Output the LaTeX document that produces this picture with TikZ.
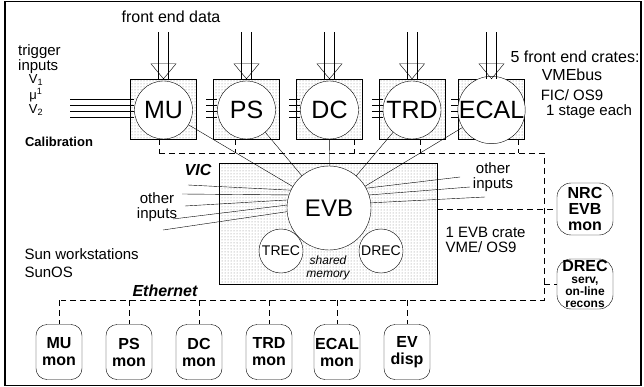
\documentclass[tikz,border=0pt]{standalone}
\usepackage{fontspec}
\setmainfont{Liberation Sans}
\usetikzlibrary{patterns, positioning}
\tikzset{
x=1pt, y=-1pt, % pixel coordinates, y grows downwards
crate/.style={draw, rectangle, pattern=dots, pattern color=gray, minimum width=66pt, minimum height=60pt, inner sep=0pt}, % stippled crate
proc/.style={draw, circle, fill=white, inner sep=0pt, minimum size=58pt, font=\fontsize{25}{25}\selectfont}, % processor circle
mon/.style={draw, rectangle, rounded corners=11pt, minimum width=46pt, minimum height=55pt, align=center, inner sep=1pt, font=\bfseries\fontsize{16}{17}\selectfont}, % workstation
bus/.style={dash pattern=on 6pt off 4pt}, % VIC bus and Ethernet
}
\newcommand{\smalltxt}{\fontsize{12}{12}\selectfont}

\begin{document}
\begin{tikzpicture}[font=\fontsize{16}{17}\selectfont]
        \useasboundingbox (0,0) rectangle (644,387);
        \draw[line width=1.2pt] (5,1.5) rectangle (641,385.5);

        %% the five front end crates, each with its data input from the top
        \foreach \n/\x/\t in {mu/163.5/MU, ps/246.5/PS, dc/329.5/DC, trd/412/TRD, ecal/491.5/ECAL}{
            \node[crate] (\n-box) at (\x,109) {};
            \node[proc] (\n) at (\x,110) {\t};
            \draw ([xshift=-5pt]\n-box.north) -- ++(0,-47);
            \draw ([xshift=5pt]\n-box.north) -- ++(0,-47);
            \draw (\n-box.north) -- ++(-12.5,-15) -- ++(25,0) -- cycle;
        }
        \node (fed) at (171,17) {front end data};

        %% trigger inputs into MU, short stubs on the other crates
        \foreach \y in {99,105,111,117}
            \draw (70,\y) -- (mu.west |- 0,\y);
        \foreach \n in {ps,dc,trd,ecal}
            \foreach \y in {99,105,111,117}
                \draw (\n-box.west |- 0,\y) ++(-7,0) -- (\n.west |- 0,\y);
        \node[align=left, anchor=west, inner sep=1pt, font=\fontsize{15}{13}\selectfont] (trig) at (17,59) {trigger\\inputs};
        \node[inner sep=0pt, font=\fontsize{13}{13}\selectfont] (v1) at (36,80) {V\textsubscript{1}};
        \node[inner sep=0pt, font=\fontsize{13}{13}\selectfont] (mu1) at (36,95) {μ\textsuperscript{1}};
        \node[inner sep=0pt, font=\fontsize{13}{13}\selectfont] (v2) at (36,110) {V\textsubscript{2}};
        \node[font=\bfseries\fontsize{13}{13}\selectfont] (calib) at (59,142) {Calibration};

        %% crate notes
        \node[inner sep=1pt] (fec) at (575,57) {5 front end crates:};
        \node[inner sep=1pt] (vme) at (572,75) {VMEbus};
        \node[inner sep=0pt, font=\fontsize{15}{15}\selectfont] (fic) at (572,95) {FIC/ OS9};
        \node[inner sep=0pt, font=\fontsize{15}{15}\selectfont] (stage) at (589,112) {1 stage each};

        %% event builder crate
        \node[crate, minimum width=218pt, minimum height=121pt] (evb-box) at (328,223.5) {};
        \node[proc, minimum size=84pt, font=\fontsize{24}{24}\selectfont] (evb) at (329,208) {EVB};
        \node[proc, minimum size=44pt, font=\fontsize{14}{14}\selectfont] (trec) at (281,251) {TREC};
        \node[proc, minimum size=44pt, font=\fontsize{14}{14}\selectfont] (drec) at (381,251) {DREC};
        \node[align=center, inner sep=0pt, font=\itshape\fontsize{12}{12.5}\selectfont] (shm) at (328,268) {shared\\memory};
        \foreach \n in {mu,ps,dc,trd,ecal}
            \draw (\n) -- (evb);
        \node[font=\bfseries\itshape\fontsize{16}{16}\selectfont] (vic) at (198,170) {VIC};
        \node[align=left, anchor=west, font=\fontsize{15}{15}\selectfont] (evbcrate) at (442,240) {1 EVB crate\\VME/ OS9};

        %% other inputs
        \foreach \x/\y/\a [count=\i] in {188/185/155, 182/194/162, 185/206/169, 173/219/176, 163/230/185}{
            \coordinate (oil\i) at (\x,\y);
            \draw (oil\i) -- (evb.\a);
        }
        \foreach \x/\y/\a [count=\i] in {460/177/28, 470/187/18, 485/197/7}{
            \coordinate (oir\i) at (\x,\y);
            \draw (oir\i) -- (evb.\a);
        }
        \node[align=center, inner sep=0pt, font=\fontsize{15}{15}\selectfont] (oinl) at (157,207) {other\\inputs};
        \node[align=center, inner sep=0pt, font=\fontsize{15}{15}\selectfont] (oinr) at (493,177) {other\\inputs};

        %% workstations on Ethernet
        \node[align=left, anchor=west, font=\fontsize{15}{18}\selectfont] (sun) at (21,263) {Sun workstations\\SunOS};
        \node[font=\bfseries\itshape\fontsize{16}{16}\selectfont] (ethlabel) at (165,291) {Ethernet};
        \foreach \n/\x/\t in {mu/59/MU, ps/129/PS, dc/199/DC, trd/269/TRD, ecal/337/ECAL}
            \node[mon] (\n-mon) at (\x,352) {\t\\mon};
        \node[mon] (ev-mon) at (407,352) {EV\\disp};
        \node[mon, minimum width=56pt, minimum height=52pt, rounded corners=14pt, font=\bfseries\fontsize{16}{16}\selectfont] (nrc) at (585,209) {NRC\\EVB\\mon};
        \node[mon, minimum width=56pt, minimum height=50pt, rounded corners=14pt, font=\bfseries\fontsize{16}{12}\selectfont] (drecs) at (585,284) {DREC\\\smalltxt serv,\\\smalltxt on-line\\\smalltxt recons};

        %% dashed buses
        \coordinate (fe-west) at (159,153);
        \coordinate (fe-east) at (544,153);
        \coordinate (eth-east) at (544,300);
        \coordinate (eth-west) at (61,300);
        \foreach \n/\x in {mu/159, ps/235, dc/354, trd/420, ecal/518}
            \draw[bus] (\x,0 |- \n-box.south) -- (\x,153);
        \draw[bus] (fe-west) -- (fe-east) -- (eth-east) -- (eth-west);
        \foreach \n in {mu,ps,dc,trd,ecal,ev}
            \draw[bus] (\n-mon.north |- eth-west) -- (\n-mon.north);
        \draw[bus] (evb-box.east |- nrc.west) -- (nrc.west);
        \draw[bus] (eth-east |- drecs.west) -- (drecs.west);
\end{tikzpicture}
\end{document}
